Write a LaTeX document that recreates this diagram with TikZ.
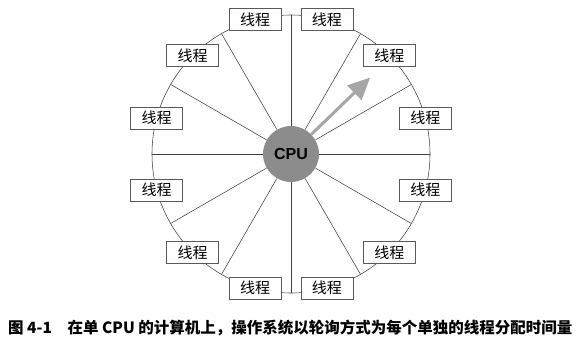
\documentclass[tikz,border=0pt]{standalone}
\usepackage{fontspec}
\setsansfont{Liberation Sans}
\newfontfamily\cjk{Noto Sans CJK SC}
\usetikzlibrary{arrows.meta}

\begin{document}
\begin{tikzpicture}
[
x=1pt, y=1pt,
thread/.style={draw=black!65, fill=white, line width=0.6pt, minimum width=52pt, minimum height=22pt, inner sep=0pt, font=\cjk\fontsize{15}{15}\selectfont},
spoke/.style={draw=black!75, line width=0.55pt},
turn/.style={draw=black!35, line width=3pt, -{Triangle[length=22pt, width=20pt]}},
]
\useasboundingbox (-291,-202) rectangle (297,154);

\draw [spoke] (0,0) circle [radius=139];
\node (cpu) [circle, minimum size=56pt, fill=black!45, font=\sffamily\bfseries\fontsize{16}{16}\selectfont] at (0,0) {CPU};

\foreach \i in {0,...,11}
{
\coordinate (s\i) at (\i*30:139);
\draw [spoke] (cpu) -- (s\i);
}
\foreach \i in {0,...,11}
\node (t\i) [thread] at (\i*30+15:139) {线程};

\coordinate (tip) at (44:110);
\draw [turn] (cpu.44) -- (tip);

\node (caption) [anchor=west, inner sep=0pt, font=\cjk\bfseries\fontsize{15.5}{15.5}\selectfont] at (-283,-174)
{图 4-1\quad 在单 CPU 的计算机上，操作系统以轮询方式为每个单独的线程分配时间量};
\end{tikzpicture}
\end{document}
